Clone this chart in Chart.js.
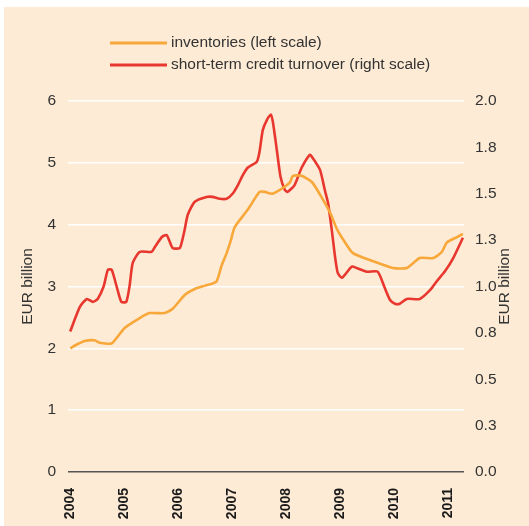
<!DOCTYPE html>
<html>
<head>
<meta charset="utf-8">
<script src="https://cdn.jsdelivr.net/npm/chart.js@4/dist/chart.umd.min.js"></script>
<style>
    html, body { margin: 0; padding: 0; background: #fff; }
    #wrap { width: 529px; height: 526px; }
</style>
</head>
<body>
<div id="wrap"><canvas id="chart" width="529" height="526"></canvas></div>
<script>
// --- Data ---
const yearTicks = [2004, 2005, 2006, 2007, 2008, 2009, 2010, 2011];
const leftTicks = [0, 1, 2, 3, 4, 5, 6];
const rightTicks = [0, 0.25, 0.5, 0.75, 1.0, 1.25, 1.5, 1.75, 2.0];

// inventories, EUR billion (left scale)
const invDates = [2004.0, 2004.14, 2004.27, 2004.45, 2004.55, 2004.77, 2005.01, 2005.29, 2005.47, 2005.75,
    2005.9, 2006.12, 2006.31, 2006.49, 2006.71, 2006.8, 2006.9, 2006.97, 2007.05, 2007.29,
    2007.51, 2007.61, 2007.74, 2007.88, 2008.07, 2008.13, 2008.29, 2008.48, 2008.67, 2008.82,
    2008.95, 2009.09, 2009.24, 2009.61, 2009.98, 2010.24, 2010.48, 2010.73, 2010.89, 2010.98,
    2011.17, 2011.28];
const invValues = [2.00, 2.07, 2.12, 2.13, 2.09, 2.08, 2.33, 2.49, 2.57, 2.57,
    2.64, 2.86, 2.96, 3.01, 3.08, 3.32, 3.54, 3.72, 3.96, 4.24,
    4.53, 4.53, 4.50, 4.56, 4.68, 4.79, 4.79, 4.69, 4.43, 4.19,
    3.92, 3.72, 3.54, 3.41, 3.30, 3.30, 3.46, 3.46, 3.56, 3.71,
    3.80, 3.85];

// short-term credit turnover, EUR billion (right scale)
const creditDates = [2004.0, 2004.18, 2004.31, 2004.42, 2004.51, 2004.62, 2004.7, 2004.77, 2004.88, 2004.95,
    2005.04, 2005.1, 2005.16, 2005.29, 2005.51, 2005.57, 2005.7, 2005.79, 2005.9, 2006.03,
    2006.07, 2006.12, 2006.18, 2006.31, 2006.53, 2006.64, 2006.77, 2006.9, 2007.01, 2007.11,
    2007.2, 2007.29, 2007.46, 2007.51, 2007.57, 2007.65, 2007.72, 2007.76, 2007.83, 2007.9,
    2007.98, 2008.03, 2008.16, 2008.29, 2008.44, 2008.48, 2008.63, 2008.72, 2008.78, 2008.85,
    2008.91, 2008.96, 2009.04, 2009.22, 2009.31, 2009.5, 2009.7, 2009.83, 2009.93, 2010.02,
    2010.11, 2010.24, 2010.48, 2010.67, 2010.8, 2010.95, 2011.1, 2011.28];
const creditValues = [0.757, 0.890, 0.933, 0.917, 0.933, 1.000, 1.090, 1.090, 0.980, 0.917,
    0.917, 1.000, 1.127, 1.187, 1.187, 1.213, 1.267, 1.277, 1.207, 1.207,
    1.240, 1.303, 1.387, 1.457, 1.483, 1.483, 1.473, 1.473, 1.500, 1.547,
    1.600, 1.640, 1.673, 1.727, 1.843, 1.900, 1.927, 1.883, 1.737, 1.590,
    1.520, 1.510, 1.547, 1.640, 1.710, 1.700, 1.630, 1.520, 1.450, 1.303,
    1.160, 1.073, 1.047, 1.107, 1.100, 1.080, 1.080, 0.993, 0.927, 0.907,
    0.907, 0.933, 0.933, 0.980, 1.030, 1.083, 1.153, 1.263];

const orange = '#F8A83A';
const red = '#E8372E';
const textColor = '#333333';
const fontFamily = '"Liberation Sans", Arial, Helvetica, sans-serif';

function toPoints(xs, ys) {
    return xs.map((x, i) => ({ x: x, y: ys[i] }));
}

// cream panel behind the chart
const panelPlugin = {
    id: 'panel',
    beforeDraw(chart) {
        const ctx = chart.ctx;
        ctx.save();
        ctx.fillStyle = '#FDEBD5';
        ctx.fillRect(4, 7, chart.width - 4, chart.height - 7);
        ctx.restore();
    }
};

// legend lines + axis titles (right title reads bottom-to-top like the left one)
const extrasPlugin = {
    id: 'extras',
    afterDraw(chart) {
        const ctx = chart.ctx;
        const area = chart.chartArea;
        ctx.save();
        ctx.font = '15.5px ' + fontFamily;
        ctx.fillStyle = textColor;
        ctx.textBaseline = 'middle';
        const items = [
            { label: 'inventories (left scale)', color: orange, y: 43 },
            { label: 'short-term credit turnover (right scale)', color: red, y: 65 }
        ];
        items.forEach(it => {
            ctx.strokeStyle = it.color;
            ctx.lineWidth = 3;
            ctx.beginPath();
            ctx.moveTo(110, it.y);
            ctx.lineTo(167, it.y);
            ctx.stroke();
            ctx.textAlign = 'left';
            ctx.fillText(it.label, 171, it.y);
        });
        const midY = (area.top + area.bottom) / 2;
        [28, 505].forEach(x => {
            ctx.save();
            ctx.translate(x, midY);
            ctx.rotate(-Math.PI / 2);
            ctx.textAlign = 'center';
            ctx.fillText('EUR billion', 0, 0);
            ctx.restore();
        });
        ctx.restore();
    }
};

const ctx = document.getElementById('chart').getContext('2d');
new Chart(ctx, {
    type: 'line',
    data: {
        datasets: [{
            label: 'inventories (left scale)',
            data: toPoints(invDates, invValues),
            borderColor: orange,
            borderWidth: 2.6,
            pointRadius: 0,
            tension: 0.2,
            yAxisID: 'yLeft'
        }, {
            label: 'short-term credit turnover (right scale)',
            data: toPoints(creditDates, creditValues),
            borderColor: red,
            borderWidth: 2.6,
            pointRadius: 0,
            tension: 0.2,
            yAxisID: 'yRight'
        }]
    },
    options: {
        responsive: false,
        animation: false,
        layout: { padding: { top: 101, left: 0, right: 0, bottom: 0 } },
        plugins: {
            legend: { display: false },
            tooltip: { enabled: false }
        },
        scales: {
            x: {
                type: 'linear',
                min: 2003.96,
                max: 2011.3,
                afterBuildTicks: scale => { scale.ticks = yearTicks.map(v => ({ value: v })); },
                afterFit: scale => { scale.height = 54; },
                grid: { display: false, drawTicks: false },
                border: { display: false },
                ticks: {
                    minRotation: 90,
                    maxRotation: 90,
                    padding: 16,
                    color: '#1a1a1a',
                    font: { family: fontFamily, size: 14, weight: 'bold' },
                    callback: v => String(v)
                }
            },
            yLeft: {
                position: 'left',
                min: 0,
                max: 6,
                afterBuildTicks: scale => { scale.ticks = leftTicks.map(v => ({ value: v })); },
                afterFit: scale => { scale.width = 68; },
                grid: {
                    drawTicks: false,
                    color: c => c.tick && c.tick.value === 0 ? '#555555' : '#ffffff',
                    lineWidth: 1.6
                },
                border: { display: false },
                ticks: {
                    padding: 12,
                    color: textColor,
                    font: { family: fontFamily, size: 15.5 }
                }
            },
            yRight: {
                position: 'right',
                min: 0,
                max: 2,
                afterBuildTicks: scale => { scale.ticks = rightTicks.map(v => ({ value: v })); },
                afterFit: scale => { scale.width = 65; },
                grid: { display: false, drawTicks: false },
                border: { display: false },
                ticks: {
                    padding: 11,
                    color: textColor,
                    font: { family: fontFamily, size: 15.5 },
                    callback: v => v.toFixed(1)
                }
            }
        }
    },
    plugins: [panelPlugin, extrasPlugin]
});
</script>
</body>
</html>
